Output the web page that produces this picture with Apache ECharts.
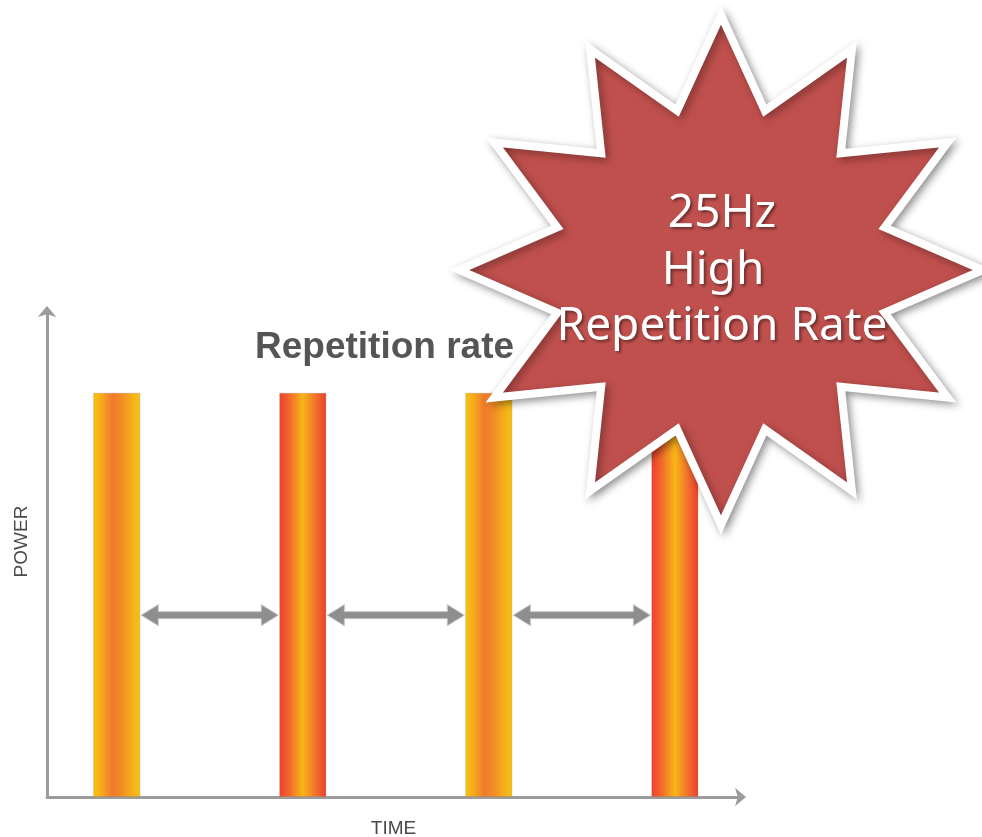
<!DOCTYPE html>
<html><head><meta charset="utf-8">
<script src="https://cdn.jsdelivr.net/npm/echarts@6/dist/echarts.min.js"></script>
<style>html,body{margin:0;padding:0;background:#fff}#c{width:982px;height:837px}</style>
</head><body><div id="c"></div>
<script>
// ---- data ----
const pulseTimes = [15, 55, 95, 135];          // ms (25 Hz -> 40 ms period)
const pulsePower = [1, 1, 1, 1];
const pulseKind = ['amber', 'red', 'amber', 'red'];
const gapLevel = [0.45, 0.45, 0.45];
const xRange = [0, 149];
const yRange = [0, 1.2];
const titleText = 'Repetition rate';
const xName = 'TIME';
const yName = 'POWER';
const badgeLines = ['25Hz', 'High', 'Repetition Rate'];

// ---- styles ----
const BAR_W = 47;
const gradients = {
  amber: [[0, '#F8C40C'], [0.15, '#F7AE1A'], [0.4, '#F07A2C'], [0.6, '#F28C26'], [0.85, '#F6B21A'], [1, '#F5C218']],
  red: [[0, '#EE3E2E'], [0.22, '#F26A2C'], [0.5, '#F8B616'], [0.78, '#F2702C'], [1, '#EC3E30']]
};
function grad(kind) {
  return new echarts.graphic.LinearGradient(0, 0, 1, 0,
    gradients[kind].map(s => ({ offset: s[0], color: s[1] })));
}

const barData = pulseTimes.map((t, i) => ({
  value: [t, pulsePower[i]],
  itemStyle: { color: grad(pulseKind[i]) }
}));
const gapData = gapLevel.map((lv, i) => [pulseTimes[i], pulseTimes[i + 1], lv]);

// 12-point star badge
const starC = [721, 270], starR = 255, starr = 165, starSx = 1.027;
const starPts = [];
for (let k = 0; k < 24; k++) {
  const a = -Math.PI / 2 + k * Math.PI / 12;
  const r = k % 2 === 0 ? starR : starr;
  starPts.push([starC[0] + starSx * r * Math.cos(a), starC[1] + r * Math.sin(a)]);
}
const badgeY = [214, 271, 327];
const badgeX = [722, 713, 722];

const chart = echarts.init(document.getElementById('c'), null, { renderer: 'canvas' });
chart.setOption({
  animation: false,
  backgroundColor: '#fff',
  title: {
    text: titleText, left: 250, top: 324,
    textStyle: { fontFamily: 'Liberation Sans', fontWeight: 'bold', fontSize: 37, color: '#555555' }
  },
  grid: { left: 47, right: 242, top: 312, bottom: 40, outerBoundsMode: 'none', containLabel: false },
  xAxis: {
    type: 'value', min: xRange[0], max: xRange[1],
    name: xName, nameLocation: 'middle', nameGap: 22,
    nameTextStyle: { fontFamily: 'Liberation Sans', fontSize: 19, color: '#4a4a4a' },
    axisLine: { show: true, symbol: ['none', 'arrow'], symbolSize: [14, 11], symbolOffset: [0, 6],
      lineStyle: { color: '#9c9c9c', width: 3 } },
    axisTick: { show: false }, axisLabel: { show: false }, splitLine: { show: false }
  },
  yAxis: {
    type: 'value', min: yRange[0], max: yRange[1],
    name: yName, nameLocation: 'middle', nameGap: 16, nameRotate: 90,
    nameTextStyle: { fontFamily: 'Liberation Sans', fontSize: 19, color: '#4a4a4a', padding: [0, 0, 0, 26] },
    axisLine: { show: true, symbol: ['none', 'arrow'], symbolSize: [14, 11], symbolOffset: [0, 6],
      lineStyle: { color: '#9c9c9c', width: 3 } },
    axisTick: { show: false }, axisLabel: { show: false }, splitLine: { show: false }
  },
  series: [
    {
      type: 'bar', data: barData, barWidth: BAR_W, z: 2,
      itemStyle: { borderColor: 'rgba(150,120,80,0.35)', borderWidth: 0.8 }
    },
    {
      type: 'custom', data: gapData, z: 3,
      renderItem: function (params, api) {
        const a = api.coord([api.value(0), api.value(2)]);
        const b = api.coord([api.value(1), api.value(2)]);
        const half = BAR_W / 2;
        const x1 = a[0] + half + 1, x2 = b[0] - half - 1, y = a[1];
        const hl = 17, hh = 10.5, sh = 3.5;
        return {
          type: 'polygon',
          shape: { points: [[x1, y], [x1 + hl, y - hh], [x1 + hl, y - sh], [x2 - hl, y - sh], [x2 - hl, y - hh],
            [x2, y], [x2 - hl, y + hh], [x2 - hl, y + sh], [x1 + hl, y + sh], [x1 + hl, y + hh]] },
          style: { fill: '#8e8e8e', stroke: '#c4c4c4', lineWidth: 1 }
        };
      }
    }
  ],
  graphic: [
    {
      type: 'polygon', z: 100,
      shape: { points: starPts },
      style: { fill: '#C0504D', stroke: '#ffffff', lineWidth: 8, lineJoin: 'miter', miterLimit: 20,
        shadowBlur: 8, shadowOffsetX: 3, shadowOffsetY: 3, shadowColor: 'rgba(0,0,0,0.35)' }
    }
  ].concat(badgeLines.map((t, i) => ({
    type: 'text', z: 101, x: badgeX[i], y: badgeY[i],
    style: {
      text: t, fill: '#ffffff', font: '46px "Noto Sans"', align: 'center', verticalAlign: 'middle',
      textShadowColor: 'rgba(0,0,0,0.45)', textShadowBlur: 3, textShadowOffsetX: 2, textShadowOffsetY: 2
    }
  })))
});
</script>
</body></html>
